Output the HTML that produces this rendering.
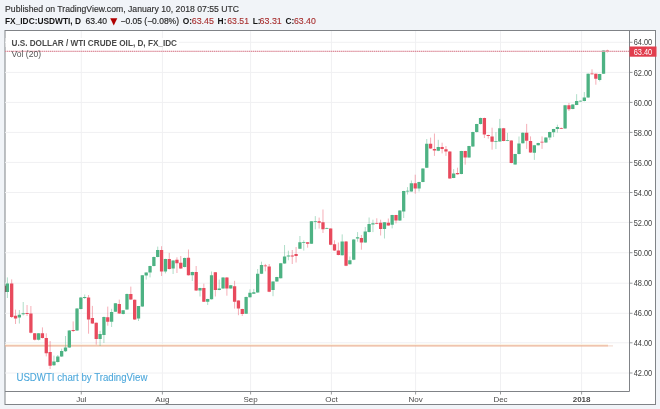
<!DOCTYPE html><html><head><meta charset="utf-8"><style>
html,body{margin:0;padding:0;width:660px;height:409px;overflow:hidden;background:#f1f4f8}
svg{display:block;font-family:"Liberation Sans",sans-serif;will-change:transform}
</style></head><body>
<svg width="660" height="409" viewBox="0 0 660 409">
<rect x="0" y="0" width="660" height="409" fill="#f1f4f8"/>
<rect x="5" y="30.5" width="650.5" height="374" fill="#fff" stroke="#808387" stroke-width="1"/>
<path d="M5 373.00H629M5 342.80H629M5 313.30H629M5 283.20H629M5 252.70H629M5 222.40H629M5 192.50H629M5 162.40H629M5 132.40H629M5 102.40H629M5 72.40H629M5 42.30H629M81.30 31V391M162.40 31V391M250.60 31V391M331.40 31V391M415.60 31V391M500.50 31V391M581.60 31V391" stroke="#f0f0f2" stroke-width="1" fill="none"/>
<rect x="5.5" y="38" width="173.5" height="9" fill="#fff" fill-opacity="0.85"/>
<path d="M5 344.7H608" stroke="#fcf0de" stroke-width="1" fill="none"/><path d="M5 345.9H608" stroke="#ebb294" stroke-width="1.35" fill="none"/><path d="M608 345.9H613" stroke="#f3dcd2" stroke-width="1.2" fill="none"/>
<g clip-path="url(#cp)">
<clipPath id="cp"><rect x="5" y="31" width="624" height="360"/></clipPath>
<path d="M7.40 277.40V298.00M19.37 310.00V323.50M23.21 302.00V315.50M38.59 333.00V340.50M53.96 355.60V366.00M57.80 355.00V362.50M61.64 348.70V357.00M65.49 336.00V352.00M69.33 330.00V348.00M77.02 308.00V331.00M80.86 297.00V309.50M84.70 294.50V299.00M100.08 330.80V346.00M103.92 316.50V343.00M111.61 308.80V327.00M115.45 303.00V312.00M123.14 310.00V314.50M126.98 293.50V310.00M138.51 306.00V321.00M142.35 275.00V307.00M146.20 272.30V279.60M150.04 265.70V277.40M153.88 256.50V266.50M157.72 246.60V257.30M165.41 258.70V273.40M173.10 260.20V274.00M184.63 257.50V267.50M192.31 271.70V281.00M200.00 287.70V296.50M207.69 298.70V305.00M211.53 271.50V299.60M219.22 279.60V290.30M223.06 277.00V288.80M230.75 284.90V288.80M246.12 296.50V314.00M249.96 289.30V297.60M253.80 288.90V294.00M257.65 269.00V292.80M261.49 261.70V274.10M273.02 281.20V296.20M276.86 276.80V281.80M280.71 262.90V278.50M284.55 245.00V263.80M288.39 250.70V260.30M299.92 236.00V249.00M303.77 240.30V250.60M311.45 221.00V244.00M315.30 216.10V229.30M326.83 227.50V229.00M342.20 234.40V255.60M349.88 256.50V264.50M353.73 239.00V260.20M357.57 232.10V241.70M365.26 227.00V242.80M369.10 217.50V232.50M372.94 219.70V232.10M384.47 222.00V238.50M392.16 214.80V228.40M399.85 210.20V221.00M403.69 190.80V218.00M407.53 187.10V194.50M411.38 180.50V191.80M419.06 181.70V191.50M422.91 168.20V182.30M426.75 139.00V168.00M438.28 139.80V151.20M453.65 169.10V178.20M461.34 150.80V174.30M469.02 145.80V157.80M472.87 131.70V147.00M476.71 123.80V132.50M480.55 117.60V124.50M495.93 132.10V149.00M499.77 118.90V141.80M507.46 132.90V141.20M515.14 153.80V164.80M518.99 136.50V154.50M522.83 132.40V143.60M534.36 144.90V159.90M538.20 142.70V145.60M545.89 137.30V143.00M549.73 131.70V140.00M553.57 128.80V137.10M557.42 124.70V132.70M565.10 104.90V128.80M572.79 104.20V109.30M576.63 94.20V105.20M580.48 100.50V101.70M584.32 92.00V101.40M588.16 73.40V98.00M599.69 73.80V81.40M603.54 50.30V74.00" stroke="#4db283" stroke-width="0.45" fill="none"/>
<path d="M11.68 279.40V318.00M15.53 309.60V324.00M27.06 305.00V316.00M30.90 306.00V333.50M34.74 333.00V340.50M42.43 327.40V338.50M46.27 333.30V356.40M50.12 341.00V369.00M73.17 321.40V332.00M88.55 295.00V333.70M92.39 305.90V324.00M96.23 322.50V344.70M107.76 306.60V325.70M119.29 299.60V314.00M130.82 286.60V300.00M134.67 299.50V320.00M161.57 246.20V276.00M169.25 252.90V269.50M176.94 257.30V273.00M180.78 256.00V269.00M188.47 249.50V275.60M196.16 266.00V291.00M203.84 283.70V302.00M215.37 272.00V296.50M226.90 277.00V295.70M234.59 280.80V308.60M238.43 300.20V315.20M242.28 308.70V316.00M265.33 263.90V271.30M269.18 264.00V292.20M292.24 250.00V264.00M296.08 247.00V262.50M307.61 242.00V247.70M319.14 217.60V228.60M322.98 209.50V233.00M330.67 228.30V245.20M334.51 240.30V251.00M338.36 242.50V255.40M346.04 241.00V266.20M361.41 235.00V249.70M376.79 218.30V224.20M380.63 219.70V235.50M388.32 218.50V226.00M396.00 214.80V223.40M415.22 174.70V193.70M430.59 137.60V149.00M434.44 133.50V155.90M442.12 142.70V153.40M445.96 146.10V155.90M449.81 151.20V178.80M457.49 167.70V174.70M465.18 150.80V164.70M484.40 117.60V138.00M488.24 134.70V138.70M492.08 127.70V149.70M503.61 127.90V141.30M511.30 140.20V163.30M526.67 123.90V148.90M530.52 136.40V152.90M542.04 136.40V148.90M561.26 127.50V129.00M568.95 103.00V111.00M592.01 69.30V74.50M595.85 73.40V84.70M607.38 49.70V52.60" stroke="#e84a5d" stroke-width="0.45" fill="none"/>
<path d="M5.75 283.60h3.30v8.40h-3.30zM17.72 314.70h3.30v2.90h-3.30zM21.56 313.30h3.30v1.00h-3.30zM36.94 333.30h3.30v6.40h-3.30zM52.31 361.50h3.30v3.80h-3.30zM56.15 356.40h3.30v5.50h-3.30zM59.99 351.00h3.30v5.40h-3.30zM63.84 347.50h3.30v3.80h-3.30zM67.68 330.40h3.30v17.10h-3.30zM75.37 308.50h3.30v21.90h-3.30zM79.21 297.40h3.30v11.70h-3.30zM83.05 297.00h3.30v1.00h-3.30zM98.43 334.00h3.30v4.90h-3.30zM102.27 316.90h3.30v18.00h-3.30zM109.96 312.00h3.30v9.70h-3.30zM113.80 303.20h3.30v8.60h-3.30zM121.49 310.30h3.30v3.70h-3.30zM125.33 294.00h3.30v15.60h-3.30zM136.86 306.10h3.30v12.30h-3.30zM140.70 275.20h3.30v31.20h-3.30zM144.55 272.60h3.30v2.90h-3.30zM148.39 266.00h3.30v6.60h-3.30zM152.23 256.90h3.30v9.20h-3.30zM156.07 250.00h3.30v6.90h-3.30zM163.76 259.00h3.30v12.50h-3.30zM171.45 260.50h3.30v8.10h-3.30zM182.98 257.90h3.30v9.20h-3.30zM190.66 272.00h3.30v3.20h-3.30zM198.35 288.00h3.30v2.60h-3.30zM206.04 299.00h3.30v2.70h-3.30zM209.88 275.20h3.30v24.00h-3.30zM217.57 288.40h3.30v1.50h-3.30zM221.41 277.40h3.30v11.00h-3.30zM229.10 285.20h3.30v3.20h-3.30zM244.47 296.90h3.30v16.80h-3.30zM248.31 292.80h3.30v4.40h-3.30zM252.15 292.20h3.30v1.50h-3.30zM256.00 273.80h3.30v18.70h-3.30zM259.84 265.00h3.30v8.80h-3.30zM271.37 281.50h3.30v8.40h-3.30zM275.21 277.10h3.30v4.40h-3.30zM279.06 263.20h3.30v15.00h-3.30zM282.90 256.60h3.30v6.90h-3.30zM286.74 255.60h3.30v1.00h-3.30zM298.27 242.20h3.30v6.50h-3.30zM302.12 241.90h3.30v0.80h-3.30zM309.80 221.30h3.30v22.40h-3.30zM313.65 221.30h3.30v0.80h-3.30zM325.18 227.90h3.30v0.80h-3.30zM340.55 241.40h3.30v13.90h-3.30zM348.23 260.30h3.30v3.90h-3.30zM352.08 239.40h3.30v20.40h-3.30zM355.92 237.20h3.30v1.20h-3.30zM363.61 231.40h3.30v11.00h-3.30zM367.45 224.00h3.30v8.10h-3.30zM371.29 223.30h3.30v1.10h-3.30zM382.82 222.30h3.30v6.70h-3.30zM390.51 215.10h3.30v9.70h-3.30zM398.20 210.50h3.30v10.10h-3.30zM402.04 191.10h3.30v20.50h-3.30zM405.88 190.80h3.30v0.80h-3.30zM409.73 183.20h3.30v8.30h-3.30zM417.41 182.00h3.30v6.60h-3.30zM421.26 168.50h3.30v13.50h-3.30zM425.10 143.80h3.30v23.90h-3.30zM436.63 147.10h3.30v3.70h-3.30zM452.00 173.50h3.30v4.40h-3.30zM459.69 151.10h3.30v22.90h-3.30zM467.37 146.10h3.30v11.30h-3.30zM471.22 132.00h3.30v14.60h-3.30zM475.06 124.10h3.30v8.00h-3.30zM478.90 117.90h3.30v6.20h-3.30zM494.28 141.00h3.30v0.80h-3.30zM498.12 128.20h3.30v13.20h-3.30zM505.81 140.20h3.30v0.80h-3.30zM513.49 154.10h3.30v10.30h-3.30zM517.34 143.40h3.30v10.70h-3.30zM521.18 132.70h3.30v10.50h-3.30zM532.71 145.20h3.30v7.60h-3.30zM536.55 143.00h3.30v2.20h-3.30zM544.24 137.60h3.30v5.00h-3.30zM548.08 132.00h3.30v5.60h-3.30zM551.92 129.10h3.30v3.20h-3.30zM555.77 126.90h3.30v2.20h-3.30zM563.45 105.20h3.30v23.20h-3.30zM571.14 104.50h3.30v4.40h-3.30zM574.98 101.10h3.30v3.80h-3.30zM578.83 100.80h3.30v0.80h-3.30zM582.67 97.60h3.30v3.50h-3.30zM586.51 73.70h3.30v23.90h-3.30zM598.04 74.10h3.30v5.90h-3.30zM601.89 50.60h3.30v23.10h-3.30z" fill="#4db283"/>
<path d="M10.03 283.50h3.30v33.50h-3.30zM13.88 315.70h3.30v2.70h-3.30zM25.41 313.00h3.30v1.00h-3.30zM29.25 313.50h3.30v19.30h-3.30zM33.09 333.30h3.30v6.40h-3.30zM40.78 333.30h3.30v4.70h-3.30zM44.62 338.00h3.30v15.30h-3.30zM48.47 352.00h3.30v13.80h-3.30zM71.52 330.00h3.30v1.00h-3.30zM86.90 297.40h3.30v22.10h-3.30zM90.74 317.90h3.30v5.60h-3.30zM94.58 322.70h3.30v16.20h-3.30zM106.11 317.30h3.30v4.40h-3.30zM117.64 304.00h3.30v9.50h-3.30zM129.17 294.00h3.30v5.40h-3.30zM133.02 299.80h3.30v19.80h-3.30zM159.92 250.00h3.30v21.50h-3.30zM167.60 259.00h3.30v10.00h-3.30zM175.29 259.80h3.30v3.40h-3.30zM179.13 262.70h3.30v5.90h-3.30zM186.82 257.80h3.30v17.40h-3.30zM194.51 272.00h3.30v18.60h-3.30zM202.19 288.00h3.30v13.70h-3.30zM213.72 272.30h3.30v17.60h-3.30zM225.25 277.40h3.30v11.00h-3.30zM232.94 286.20h3.30v15.50h-3.30zM236.78 300.50h3.30v8.10h-3.30zM240.63 309.00h3.30v5.00h-3.30zM263.68 265.40h3.30v0.80h-3.30zM267.53 266.40h3.30v25.40h-3.30zM290.59 255.60h3.30v0.80h-3.30zM294.43 254.10h3.30v1.80h-3.30zM305.96 242.20h3.30v1.50h-3.30zM317.49 221.30h3.30v1.40h-3.30zM321.33 222.30h3.30v7.00h-3.30zM329.02 228.60h3.30v16.20h-3.30zM332.86 244.30h3.30v6.30h-3.30zM336.71 250.60h3.30v4.40h-3.30zM344.39 241.40h3.30v24.40h-3.30zM359.76 238.00h3.30v4.40h-3.30zM375.14 222.90h3.30v0.90h-3.30zM378.98 222.70h3.30v6.30h-3.30zM386.67 222.70h3.30v2.80h-3.30zM394.35 215.10h3.30v5.50h-3.30zM413.57 183.20h3.30v5.40h-3.30zM428.94 143.80h3.30v4.80h-3.30zM432.79 149.00h3.30v1.50h-3.30zM440.47 147.10h3.30v1.90h-3.30zM444.31 149.30h3.30v2.20h-3.30zM448.16 151.50h3.30v26.90h-3.30zM455.84 173.10h3.30v1.20h-3.30zM463.53 151.10h3.30v6.30h-3.30zM482.75 117.90h3.30v16.70h-3.30zM486.59 135.00h3.30v1.10h-3.30zM490.43 136.50h3.30v5.20h-3.30zM501.96 128.20h3.30v12.70h-3.30zM509.65 140.50h3.30v22.40h-3.30zM525.02 132.70h3.30v8.10h-3.30zM528.87 141.10h3.30v11.40h-3.30zM540.39 141.70h3.30v0.80h-3.30zM559.61 127.90h3.30v0.80h-3.30zM567.30 105.20h3.30v4.10h-3.30zM590.36 73.40h3.30v0.80h-3.30zM594.20 73.70h3.30v5.10h-3.30zM605.73 50.60h3.30v0.80h-3.30z" fill="#e84a5d"/>
</g>
<rect x="5.3" y="285.7" width="0.8" height="6.3" fill="#6b3a3a"/>
<path d="M5 51.3H629" stroke="#efc3cb" stroke-width="1" fill="none"/><path d="M5 51.3H629" stroke="#cf6a7c" stroke-width="0.9" stroke-dasharray="0.9 1.15" fill="none"/>
<path d="M629.5 30.5V391.5M5 391.5H629.5" stroke="#808387" stroke-width="1" fill="none"/>
<path d="M629.5 373.00h3M629.5 342.80h3M629.5 313.30h3M629.5 283.20h3M629.5 252.70h3M629.5 222.40h3M629.5 192.50h3M629.5 162.40h3M629.5 132.40h3M629.5 102.40h3M629.5 72.40h3M629.5 42.30h3M81.30 391.5v3M162.40 391.5v3M250.60 391.5v3M331.40 391.5v3M415.60 391.5v3M500.50 391.5v3M581.60 391.5v3" stroke="#808387" stroke-width="0.8" fill="none"/>
<text x="633.7" y="376.10" font-size="8.4" fill="#3e3e3e" textLength="18.5" lengthAdjust="spacingAndGlyphs">42.00</text>
<text x="633.7" y="345.90" font-size="8.4" fill="#3e3e3e" textLength="18.5" lengthAdjust="spacingAndGlyphs">44.00</text>
<text x="633.7" y="316.40" font-size="8.4" fill="#3e3e3e" textLength="18.5" lengthAdjust="spacingAndGlyphs">46.00</text>
<text x="633.7" y="286.30" font-size="8.4" fill="#3e3e3e" textLength="18.5" lengthAdjust="spacingAndGlyphs">48.00</text>
<text x="633.7" y="255.80" font-size="8.4" fill="#3e3e3e" textLength="18.5" lengthAdjust="spacingAndGlyphs">50.00</text>
<text x="633.7" y="225.50" font-size="8.4" fill="#3e3e3e" textLength="18.5" lengthAdjust="spacingAndGlyphs">52.00</text>
<text x="633.7" y="195.60" font-size="8.4" fill="#3e3e3e" textLength="18.5" lengthAdjust="spacingAndGlyphs">54.00</text>
<text x="633.7" y="165.50" font-size="8.4" fill="#3e3e3e" textLength="18.5" lengthAdjust="spacingAndGlyphs">56.00</text>
<text x="633.7" y="135.50" font-size="8.4" fill="#3e3e3e" textLength="18.5" lengthAdjust="spacingAndGlyphs">58.00</text>
<text x="633.7" y="105.50" font-size="8.4" fill="#3e3e3e" textLength="18.5" lengthAdjust="spacingAndGlyphs">60.00</text>
<text x="633.7" y="75.50" font-size="8.4" fill="#3e3e3e" textLength="18.5" lengthAdjust="spacingAndGlyphs">62.00</text>
<text x="633.7" y="45.40" font-size="8.4" fill="#3e3e3e" textLength="18.5" lengthAdjust="spacingAndGlyphs">64.00</text>
<rect x="629.5" y="46.5" width="27" height="10.2" fill="#e13d4d"/>
<text x="633.7" y="54.5" font-size="8.4" fill="#fff" textLength="18.5" lengthAdjust="spacingAndGlyphs">63.40</text>
<text x="81.30" y="401.8" font-size="8" fill="#4a4a4a" text-anchor="middle">Jul</text>
<text x="162.40" y="401.8" font-size="8" fill="#4a4a4a" text-anchor="middle">Aug</text>
<text x="250.60" y="401.8" font-size="8" fill="#4a4a4a" text-anchor="middle">Sep</text>
<text x="331.40" y="401.8" font-size="8" fill="#4a4a4a" text-anchor="middle">Oct</text>
<text x="415.60" y="401.8" font-size="8" fill="#4a4a4a" text-anchor="middle">Nov</text>
<text x="500.50" y="401.8" font-size="8" fill="#4a4a4a" text-anchor="middle">Dec</text>
<text x="581.60" y="401.8" font-size="8" fill="#4a4a4a" text-anchor="middle" font-weight="bold">2018</text>
<text x="11.5" y="45.7" font-size="8.2" font-weight="bold" fill="#4a4a4a" textLength="165.5" lengthAdjust="spacingAndGlyphs">U.S. DOLLAR / WTI CRUDE OIL, D, FX_IDC</text>
<text x="11.5" y="57.2" font-size="8.5" fill="#555" textLength="29.5" lengthAdjust="spacingAndGlyphs">Vol (20)</text>
<text x="16.4" y="381.3" font-size="10.1" fill="#4ca7db" stroke="#4ca7db" stroke-width="0.08" textLength="131" lengthAdjust="spacingAndGlyphs">USDWTI chart by TradingView</text>
<text x="5.1" y="11.5" font-size="8.65" fill="#303030" stroke="#303030" stroke-width="0.15" textLength="234" lengthAdjust="spacingAndGlyphs">Published on TradingView.com, January 10, 2018 07:55 UTC</text>
<text x="5" y="24.1" font-size="8.4" font-weight="bold" fill="#151515" textLength="76" lengthAdjust="spacingAndGlyphs">FX_IDC:USDWTI, D</text>
<text x="85.5" y="24.1" font-size="8.6" fill="#222" stroke="#222" stroke-width="0.15" textLength="21.5" lengthAdjust="spacingAndGlyphs">63.40</text>
<path d="M110.2 18.2H117.3L113.75 25.4Z" fill="#b00000"/>
<text x="120.5" y="24.1" font-size="8.6" fill="#222" stroke="#222" stroke-width="0.15" textLength="58.5" lengthAdjust="spacingAndGlyphs">−0.05 (−0.08%)</text>
<text x="182.8" y="24.1" font-size="8.4" font-weight="bold" fill="#151515">O:</text>
<text x="191.7" y="24.1" font-size="8.6" fill="#a83030" stroke="#a83030" stroke-width="0.12" textLength="22.3" lengthAdjust="spacingAndGlyphs">63.45</text>
<text x="217.6" y="24.1" font-size="8.4" font-weight="bold" fill="#151515">H:</text>
<text x="227.3" y="24.1" font-size="8.6" fill="#a83030" stroke="#a83030" stroke-width="0.12" textLength="21.7" lengthAdjust="spacingAndGlyphs">63.51</text>
<text x="252.7" y="24.1" font-size="8.4" font-weight="bold" fill="#151515">L:</text>
<text x="259.5" y="24.1" font-size="8.6" fill="#a83030" stroke="#a83030" stroke-width="0.12" textLength="22.3" lengthAdjust="spacingAndGlyphs">63.31</text>
<text x="285.5" y="24.1" font-size="8.4" font-weight="bold" fill="#151515">C:</text>
<text x="294.0" y="24.1" font-size="8.6" fill="#a83030" stroke="#a83030" stroke-width="0.12" textLength="21.8" lengthAdjust="spacingAndGlyphs">63.40</text>
</svg></body></html>
